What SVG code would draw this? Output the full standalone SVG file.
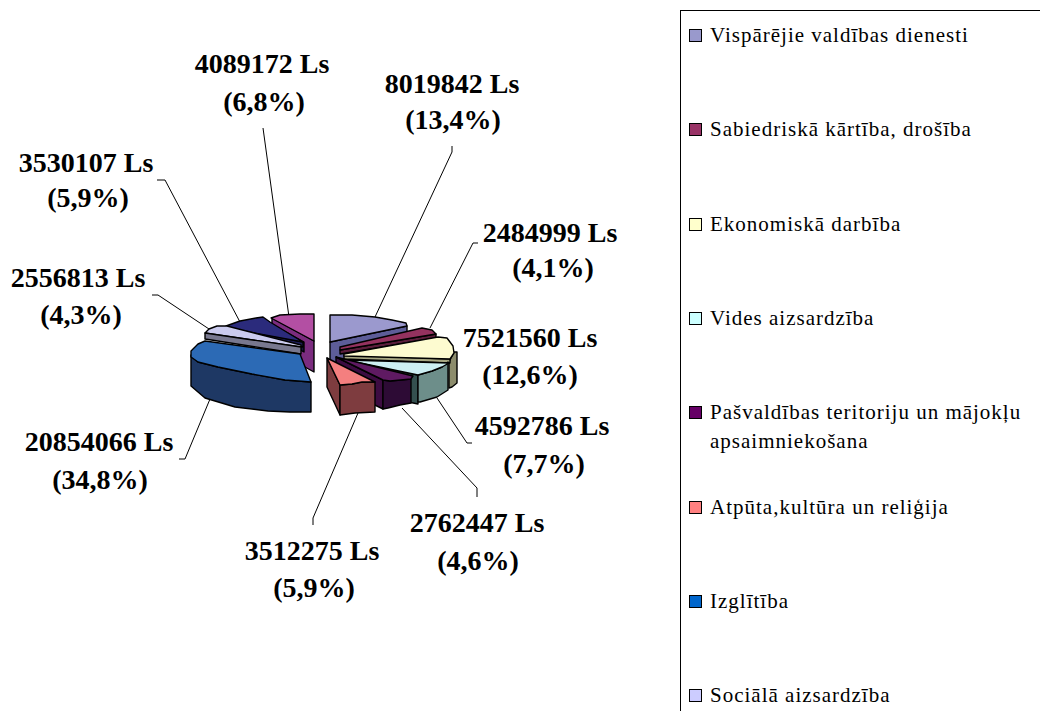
<svg xmlns="http://www.w3.org/2000/svg" width="1040" height="711" viewBox="0 0 1040 711">
<style>
.f{stroke:#000;stroke-width:1.4;stroke-linejoin:round}
.lbl{font-family:"Liberation Serif","Times New Roman",serif;font-weight:bold;font-size:28px;text-anchor:middle;fill:#000}
.leg{font-family:"Liberation Serif","Times New Roman",serif;font-size:21px;letter-spacing:1px;fill:#000}
.sq{stroke:#000;stroke-width:1}
.ln{fill:none;stroke:#000;stroke-width:1}
</style>
<rect width="1040" height="711" fill="#fff"/>

<g id="connectors">
<polyline class="ln" points="263,128 289,317"/>
<polyline class="ln" points="452,146 452,152 375,317"/>
<polyline class="ln" points="157,180 165,180 240,322"/>
<polyline class="ln" points="152,295 158,295 209,329"/>
<polyline class="ln" points="478,243 473,243 430,328"/>
<polyline class="ln" points="437,398 467,443 472,443"/>
<polyline class="ln" points="402,408 477,488 477,497"/>
<polyline class="ln" points="358,413 313,518 313,525"/>
<polyline class="ln" points="210,399 185,459 179,459"/>
</g>

<g id="slice-magenta">
<polygon class="f" fill="#7B2C7F" points="272,318 314,341 314,372 272,349"/>
<polygon class="f" fill="#B34FA3" points="271,318 280,315 300,314 314,314 314,341"/>
<text class="lbl" x="262" y="73">4089172 Ls</text>
<text class="lbl" x="264" y="111">(6,8%)</text>
</g>

<g id="slice-navy">
<polygon class="f" fill="#141440" points="268,322 304,342 304,352 268,332"/>
<polygon class="f" fill="#1C1C58" points="228,327 303,342 303,347 228,331"/>
<polygon class="f" fill="#2B2B7C" points="226,326 240,321 256,318 263,317 270,322 303,342 228,328"/>
<text class="lbl" x="86" y="172">3530107 Ls</text>
<text class="lbl" x="88" y="207">(5,9%)</text>
</g>

<g id="slice-sociala">
<polygon class="f" fill="#CBCBEE" points="205,333 209,329 217,326 227,326 301,345 301,347"/>
<polygon class="f" fill="#78788F" points="205,333 301,347 301,354 205,339"/>
<text class="lbl" x="78" y="287">2556813 Ls</text>
<text class="lbl" x="81" y="324">(4,3%)</text>
</g>

<g id="slice-izglitiba">
<polygon class="f" fill="#1E3864" points="191,355 198,362 218,367 252,374 285,380 311,382 311,412 290,412 268,411 235,407 205,398 191,386"/>
<polygon class="f" fill="#2C6AB5" points="191,351 198,344 205,341 300,354 311,382 285,380 252,374 218,367 198,362 191,357"/>
<text class="lbl" x="99" y="451">20854066 Ls</text>
<text class="lbl" x="100" y="489">(34,8%)</text>
</g>

<g id="slice-visparejie">
<polygon class="f" fill="#5D5D98" points="330,342 407,326 407,350 330,366"/>
<polygon class="f" fill="#9B99CE" points="330,315 352,315 375,317 392,320 406,323 407,326 330,342"/>
<text class="lbl" x="452" y="93">8019842 Ls</text>
<text class="lbl" x="453" y="129">(13,4%)</text>
</g>

<g id="slice-sabiedriska">
<polygon class="f" fill="#5B1E3C" points="340,350 436,334 436,338 340,354"/>
<polygon class="f" fill="#94325F" points="340,347 422,328 432,330 436,334 340,350"/>
<text class="lbl" x="550" y="242">2484999 Ls</text>
<text class="lbl" x="553" y="277">(4,1%)</text>
</g>

<g id="slice-ekonomiska">
<polygon class="f" fill="#8C8C6C" points="449,362 454,352 457,352 457,383 452,387 449,388"/>
<polygon class="f" fill="#A6A682" points="344,355 450,359 450,363 344,359"/>
<polygon class="f" fill="#FDFBD0" points="344,354 438,337 447,338 453,346 454,353 450,359 344,356"/>
<text class="lbl" x="530" y="347">7521560 Ls</text>
<text class="lbl" x="530" y="384">(12,6%)</text>
</g>

<g id="slice-vides">
<polygon class="f" fill="#34504F" points="346,360 418,375 418,404 346,389"/>
<polygon class="f" fill="#6D8E8A" points="418,375 432,371 442,367 448,362 448,390 437,397 420,402 418,402"/>
<polygon class="f" fill="#CDEFF3" points="346,360 449,363 442,367 432,371 418,375"/>
<text class="lbl" x="542" y="435">4592786 Ls</text>
<text class="lbl" x="544" y="473">(7,7%)</text>
</g>

<g id="slice-pasvaldibas">
<polygon class="f" fill="#3D0C42" points="336,357 383,380 383,409 336,386"/>
<polygon class="f" fill="#2D0B35" points="383,380 390,381 411,379 411,403 400,405 388,408 383,409"/>
<polygon class="f" fill="#5F1A62" points="336,357 413,376 411,379 390,381 383,380"/>
<text class="lbl" x="477" y="532">2762447 Ls</text>
<text class="lbl" x="478" y="570">(4,6%)</text>
</g>

<g id="slice-atputa">
<polygon class="f" fill="#7E3C3F" points="327,358 340,385 340,415 327,387"/>
<polygon class="f" fill="#7E3C3F" points="340,385 352,384 362,382 375,382 375,412 355,413 340,415"/>
<polygon class="f" fill="#F47F7F" points="327,358 375,382 362,382 352,384 340,385"/>
<text class="lbl" x="312" y="560">3512275 Ls</text>
<text class="lbl" x="314" y="597">(5,9%)</text>
</g>

<g id="legend">
<rect x="680.5" y="10.5" width="400" height="760" fill="none" stroke="#000" stroke-width="1"/>
<rect class="sq" x="689.5" y="29.5" width="12" height="12" fill="#9999CC"/>
<text class="leg" x="710" y="42">Vispārējie valdības dienesti</text>
<rect class="sq" x="689.5" y="123.5" width="12" height="12" fill="#993366"/>
<text class="leg" x="710" y="136">Sabiedriskā kārtība, drošība</text>
<rect class="sq" x="689.5" y="218.5" width="12" height="12" fill="#FFFFCC"/>
<text class="leg" x="710" y="231">Ekonomiskā darbība</text>
<rect class="sq" x="689.5" y="312.5" width="12" height="12" fill="#CCFFFF"/>
<text class="leg" x="710" y="325">Vides aizsardzība</text>
<rect class="sq" x="689.5" y="406.5" width="12" height="12" fill="#660066"/>
<text class="leg" x="710" y="419">Pašvaldības teritoriju un mājokļu</text>
<text class="leg" x="710" y="448">apsaimniekošana</text>
<rect class="sq" x="689.5" y="501.5" width="12" height="12" fill="#FF8080"/>
<text class="leg" x="710" y="514">Atpūta,kultūra un reliģija</text>
<rect class="sq" x="689.5" y="595.5" width="12" height="12" fill="#0066CC"/>
<text class="leg" x="710" y="608">Izglītība</text>
<rect class="sq" x="689.5" y="689.5" width="12" height="12" fill="#CCCCFF"/>
<text class="leg" x="710" y="702">Sociālā aizsardzība</text>
</g>
</svg>
